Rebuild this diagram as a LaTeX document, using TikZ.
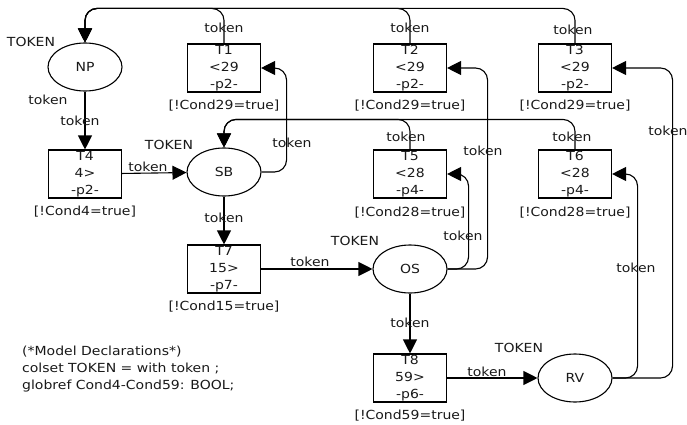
\documentclass[tikz,border=0pt]{standalone}
\usepackage{fontspec}
\setmainfont{DejaVu Sans}[FakeStretch=1.12]
\usepackage{tikz}
\usetikzlibrary{shapes.geometric,arrows.meta}

\begin{document}
\fontsize{12.5}{17}\selectfont
\begin{tikzpicture}
  [x=1pt,y=-1pt,
   place/.style={ellipse,draw=black,line width=1.1pt,minimum width=74pt,
                 minimum height=48pt,inner sep=0,text=black!90},
   trans/.style={rectangle,draw=black,line width=1.1pt,align=center,
                 minimum width=73pt,minimum height=48pt,inner sep=0,
                 text=black!90},
   lbl/.style={inner sep=0,text=black!90},
   flow/.style={line width=1.1pt,rounded corners=12pt,
                -{Triangle[length=14pt,width=14pt]}}]
  \useasboundingbox (0,0) rectangle (687,425);
%  places
  \node[place] (np) at (85,67) {NP};
  \node[place] (sb) at (224,172) {SB};
  \node[place] (os) at (410,269) {OS};
  \node[place] (rv) at (575,378) {RV};
%  transitions
  \node[trans] (t1) at (224,68) {T1\\<29\\-p2-};
  \node[trans] (t2) at (410,68) {T2\\<29\\-p2-};
  \node[trans] (t3) at (575,68) {T3\\<29\\-p2-};
  \node[trans] (t4) at (85,174) {T4\\4>\\-p2-};
  \node[trans] (t5) at (410,174) {T5\\<28\\-p4-};
  \node[trans] (t6) at (575,174) {T6\\<28\\-p4-};
  \node[trans] (t7) at (224,269) {T7\\15>\\-p7-};
  \node[trans] (t8) at (410,378) {T8\\59>\\-p6-};
%  guards
  \node[lbl] (g1) at (224,106) {[!Cond29=true]};
  \node[lbl] (g2) at (410,106) {[!Cond29=true]};
  \node[lbl] (g3) at (575,106) {[!Cond29=true]};
  \node[lbl] (g4) at (85,212) {[!Cond4=true]};
  \node[lbl] (g5) at (410,213) {[!Cond28=true]};
  \node[lbl] (g6) at (575,213) {[!Cond28=true]};
  \node[lbl] (g7) at (224,307) {[!Cond15=true]};
  \node[lbl] (g8) at (410,416) {[!Cond59=true]};
%  colour sets
  \node[lbl] (cnp) at (31,42) {TOKEN};
  \node[lbl] (csb) at (169,145) {TOKEN};
  \node[lbl] (cos) at (355,241) {TOKEN};
  \node[lbl] (crv) at (519,348) {TOKEN};
%  arcs
  \draw[flow] (t1.north) -- ++(0,-35) -| (np.north);
  \draw[flow] (t2.north) -- ++(0,-35) -| (np.north);
  \draw[flow] (t3.north) -- ++(0,-35) -| (np.north);
  \draw[flow] (np) to (t4);
  \draw[flow] (t4) to (sb);
  \draw[flow] (sb.east) -- ++(25,0) |- (t1.east);
  \draw[flow] (t5.north) -- ++(0,-30) -| (sb.north);
  \draw[flow] (t6.north) -- ++(0,-30) -| (sb.north);
  \draw[flow] (sb) to (t7);
  \draw[flow] (t7) to (os);
  \draw[flow] (os.east) -- ++(21,0) |- (t5.east);
  \draw[flow] (os.east) -- ++(40,0) |- (t2.east);
  \draw[flow] (os) to (t8);
  \draw[flow] (t8) to (rv);
  \draw[flow] (rv.east) -- ++(25,0) |- (t6.east);
  \draw[flow] (rv.east) -- ++(60,0) |- (t3.east);
%  inscriptions
  \node[lbl] (a1) at (224,28) {token};
  \node[lbl] (a2) at (410,28) {token};
  \node[lbl] (a3) at (573,30) {token};
  \node[lbl] (a4) at (48,100) {token};
  \node[lbl] (a5) at (80,121) {token};
  \node[lbl] (a6) at (148,167) {token};
  \node[lbl] (a7) at (292,143) {token};
  \node[lbl] (a8) at (406,137) {token};
  \node[lbl] (a9) at (572,137) {token};
  \node[lbl] (a10) at (224,218) {token};
  \node[lbl] (a11) at (310,262) {token};
  \node[lbl] (a12) at (463,236) {token};
  \node[lbl] (a13) at (483,151) {token};
  \node[lbl] (a14) at (410,323) {token};
  \node[lbl] (a15) at (487,372) {token};
  \node[lbl] (a16) at (636,268) {token};
  \node[lbl] (a17) at (668,131) {token};
%  declarations
  \node[lbl,anchor=north west,align=left] (decl) at (22,346)
    {(*Model Declarations*)\\colset TOKEN = with token ;\\globref Cond4-Cond59: BOOL;};
\end{tikzpicture}
\end{document}
